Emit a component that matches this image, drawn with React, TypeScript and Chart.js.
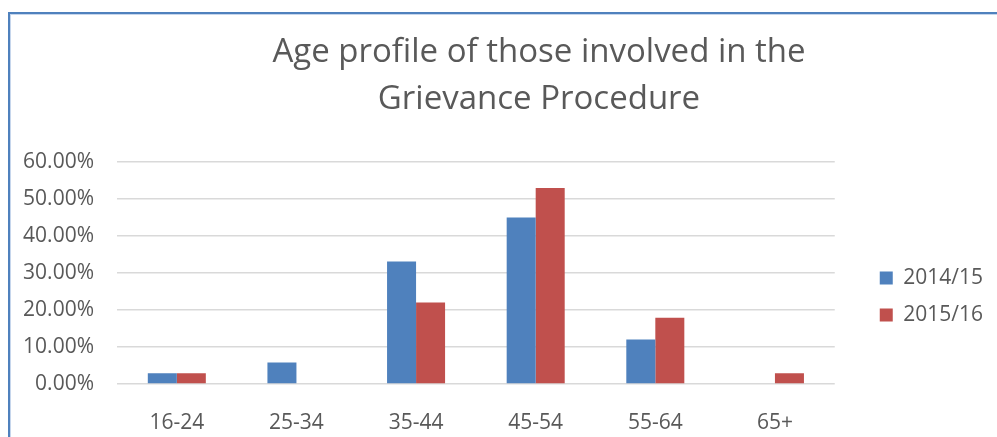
import React, { useEffect, useRef } from 'react';
import { Chart, registerables } from 'chart.js';

Chart.register(...registerables);

const categories = ['16-24', '25-34', '35-44', '45-54', '55-64', '65+'];
const seriesLabels = ['2014/15', '2015/16'];
const series2014 = [2.9, 5.8, 33.1, 45.0, 12.0, 0];
const series2015 = [2.9, 0, 22.0, 53.0, 17.9, 2.9];
const titleLines = ['Age profile of those involved in the', 'Grievance Procedure'];
const yMin = 0;
const yMax = 60;
const yStep = 10;

const FONT = "'Open Sans', 'Noto Sans', sans-serif";
const TEXT = '#595959';

const shiftPlugin = {
  id: 'shiftBoxes',
  afterLayout(chart: any) {
    const l = chart.legend;
    if (l) {
      l.left += 29;
      l.right += 29;
      l.top += 78;
      l.bottom += 78;
    }
    const t = chart.titleBlock;
    if (t) {
      t.left += 114;
    }
  },
};

export default function App() {
  const ref = useRef<HTMLCanvasElement | null>(null);

  useEffect(() => {
    document.body.style.margin = '0';
    const canvas = ref.current;
    if (!canvas) return;
    const chart = new Chart(canvas, {
      type: 'bar',
      data: {
        labels: categories,
        datasets: [
          {
            label: seriesLabels[0],
            data: series2014,
            backgroundColor: '#4F81BD',
            borderWidth: 0,
          },
          {
            label: seriesLabels[1],
            data: series2015,
            backgroundColor: '#C0504D',
            borderWidth: 0,
          },
        ],
      },
      plugins: [shiftPlugin],
      options: {
        animation: false,
        responsive: false,
        maintainAspectRatio: false,
        devicePixelRatio: 1,
        layout: { padding: { left: 0, right: 33, top: 0, bottom: 0 } },
        datasets: {
          bar: { categoryPercentage: 0.485, barPercentage: 1 },
        },
        plugins: {
          title: {
            display: true,
            text: titleLines,
            color: TEXT,
            font: { family: FONT, size: 33, weight: 'normal', lineHeight: 1.424 },
            padding: { top: 29, bottom: 39 },
          },
          legend: {
            display: true,
            position: 'right',
            labels: {
              color: TEXT,
              font: { family: FONT, size: 21 },
              boxWidth: 13,
              boxHeight: 13,
              padding: 16,
            },
          },
          tooltip: { enabled: false },
        },
        scales: {
          x: {
            grid: { display: false, drawTicks: false },
            border: { display: false },
            ticks: {
              color: TEXT,
              font: { family: FONT, size: 21 },
              padding: 26,
              maxRotation: 0,
            },
            afterFit(scale: any) {
              scale.height = 53;
            },
          },
          y: {
            min: yMin,
            max: yMax,
            grid: { color: '#D9D9D9', lineWidth: 1.5, drawTicks: false },
            border: { display: false },
            ticks: {
              stepSize: yStep,
              color: TEXT,
              font: { family: FONT, size: 21 },
              padding: 23,
              callback: (v: any) => Number(v).toFixed(2) + '%',
            },
            afterFit(scale: any) {
              scale.width = 117;
            },
          },
        },
      },
    });
    return () => chart.destroy();
  }, []);

  return (
    <div style={{ position: 'fixed', left: 0, top: 0, width: 997, height: 437, overflow: 'hidden', background: '#fff' }}>
      <div
        style={{
          position: 'absolute',
          left: 8,
          top: 12,
          width: 1100,
          height: 500,
          borderLeft: '2px solid #4F81BD',
          borderTop: '2px solid #4F81BD',
          boxShadow: 'inset 1px 1px 0 #C6D6EC',
        }}
      />
      <canvas ref={ref} width={997} height={437} style={{ position: 'absolute', left: 0, top: 0, width: 997, height: 437 }} />
    </div>
  );
}
